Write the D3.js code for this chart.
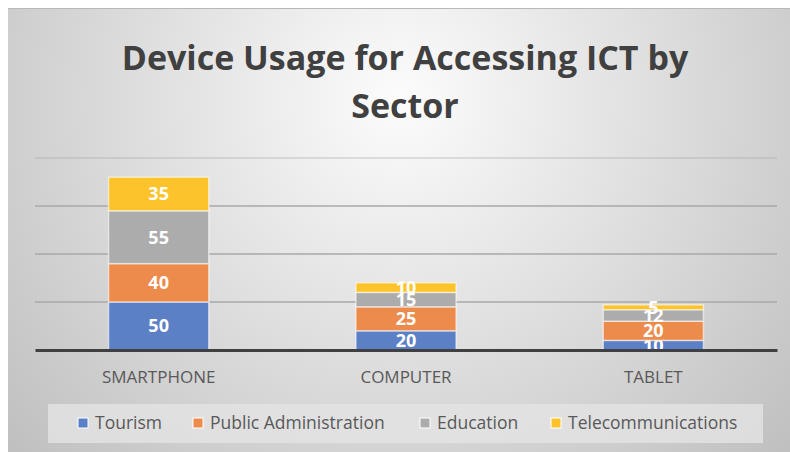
<!DOCTYPE html>
<html>
<head>
    <meta charset="utf-8">
    <script src="https://d3js.org/d3.v7.min.js"></script>
    <style>
        body { margin: 0; background: #fff; }
        text { font-family: "Open Sans", "Noto Sans", sans-serif; }
    </style>
</head>
<body>
    <svg width="790" height="452"></svg>

    <script>
        // chart data
        var devices = ["SMARTPHONE", "COMPUTER", "TABLET"];
        var sectors = ["Tourism", "Public Administration", "Education", "Telecommunications"];
        var tourism = [50, 20, 10];
        var publicAdmin = [40, 25, 20];
        var education = [55, 15, 12];
        var telecom = [35, 10, 5];
        var yTicks = [0, 50, 100, 150, 200];
        var colors = ["#5b80c6", "#ec8b4b", "#acacac", "#fcc42a"];

        var series = [tourism, publicAdmin, education, telecom];
        var table = devices.map(function(d, i) {
            var row = { device: d };
            sectors.forEach(function(s, j) { row[s] = series[j][i]; });
            return row;
        });

        var svg = d3.select("svg");

        // background with soft radial gradient
        var defs = svg.append("defs");
        var grad = defs.append("radialGradient")
            .attr("id", "bg")
            .attr("gradientUnits", "userSpaceOnUse")
            .attr("cx", 400).attr("cy", 100).attr("r", 520);
        grad.append("stop").attr("offset", "0").attr("stop-color", "#fcfcfc");
        grad.append("stop").attr("offset", "1").attr("stop-color", "#c0c0c0");

        svg.append("rect")
            .attr("x", 8).attr("y", 8)
            .attr("width", 782).attr("height", 444)
            .attr("fill", "url(#bg)");
        svg.append("line")
            .attr("x1", 8).attr("x2", 790).attr("y1", 8.5).attr("y2", 8.5)
            .attr("stroke", "#b8b8b8");

        // title
        var title = svg.append("text")
            .attr("text-anchor", "middle")
            .attr("fill", "#404040")
            .attr("font-weight", "bold")
            .attr("font-size", 34);
        title.append("tspan").attr("x", 405).attr("y", 70).text("Device Usage for Accessing ICT by");
        title.append("tspan").attr("x", 405).attr("y", 118).text("Sector");

        var x = d3.scaleBand()
            .domain(devices)
            .range([35, 777])
            .paddingInner(0.595)
            .paddingOuter(0.2975);

        var y = d3.scaleLinear()
            .domain([0, 200])
            .range([350, 158]);

        // gridlines
        svg.append("g")
            .selectAll("line")
            .data(yTicks.slice(1))
            .enter().append("line")
            .attr("x1", 35).attr("x2", 777)
            .attr("y1", function(d) { return y(d); })
            .attr("y2", function(d) { return y(d); })
            .attr("stroke", "#a9a9a9")
            .attr("stroke-width", 1.5)
            .attr("stroke-opacity", function(d) { return d === 200 ? 0.45 : 1; });

        var stack = d3.stack().keys(sectors)(table);

        var layer = svg.append("g")
            .selectAll("g")
            .data(stack)
            .enter().append("g")
            .attr("fill", function(d, i) { return colors[i]; });

        layer.selectAll("rect")
            .data(function(d) { return d; })
            .enter().append("rect")
            .attr("x", function(d) { return x(d.data.device); })
            .attr("y", function(d) { return y(d[1]); })
            .attr("width", x.bandwidth())
            .attr("height", function(d) { return y(d[0]) - y(d[1]); })
            .attr("stroke", "rgba(255,255,255,0.55)")
            .attr("stroke-width", 1.5);

        layer.selectAll("text")
            .data(function(d) { return d; })
            .enter().append("text")
            .attr("x", function(d) { return x(d.data.device) + x.bandwidth() / 2; })
            .attr("y", function(d) { return (y(d[0]) + y(d[1])) / 2; })
            .attr("dy", "0.36em")
            .attr("text-anchor", "middle")
            .attr("fill", "#ffffff")
            .attr("font-weight", "bold")
            .attr("font-size", 18)
            .text(function(d) { return d[1] - d[0]; });

        // baseline axis
        var xAxis = svg.append("g")
            .attr("transform", "translate(0,350)")
            .call(d3.axisBottom(x).tickSize(0).tickPadding(21));
        xAxis.select(".domain")
            .attr("stroke", "#404040")
            .attr("stroke-width", 3);
        xAxis.selectAll("text")
            .attr("fill", "#595959")
            .attr("font-size", 17)
            .style("font-family", "'Open Sans', sans-serif");

        // legend
        svg.append("rect")
            .attr("x", 48).attr("y", 404)
            .attr("width", 715).attr("height", 39)
            .attr("fill", "#e4e4e4")
            .attr("fill-opacity", 0.8);

        var legendX = [78, 193, 420, 551];
        var legend = svg.append("g")
            .selectAll("g")
            .data(sectors)
            .enter().append("g")
            .attr("transform", function(d, i) { return "translate(" + legendX[i] + ",423)"; });

        legend.append("rect")
            .attr("x", 0).attr("y", -5)
            .attr("width", 10).attr("height", 10)
            .attr("fill", function(d, i) { return colors[i]; })
            .attr("stroke", "#ffffff")
            .attr("stroke-width", 1);

        legend.append("text")
            .attr("x", 17)
            .attr("dy", "0.35em")
            .attr("fill", "#595959")
            .attr("font-size", 17.5)
            .text(function(d) { return d; });
    </script>
</body>
</html>
